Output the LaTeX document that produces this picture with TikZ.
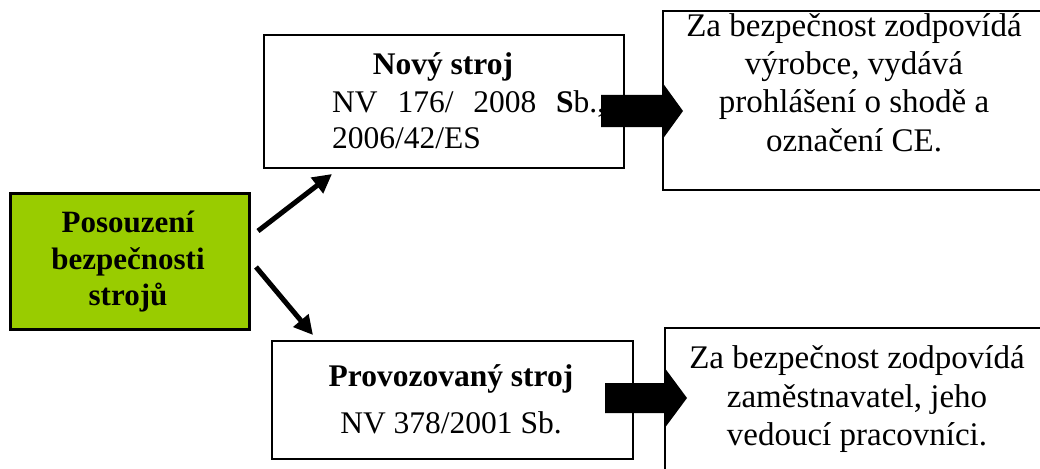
\documentclass[tikz,border=0pt]{standalone}
\usepackage{fontspec}
\setmainfont{Liberation Serif}
\usetikzlibrary{arrows.meta,calc}
\definecolor{leaf}{RGB}{153,204,0}
\begin{document}
\begin{tikzpicture}[x=1pt,y=-1pt,
  frame/.style={draw=black,line width=2pt,inner sep=0pt,anchor=north west},
  row/.style={inner sep=0pt,anchor=base},
  rowleft/.style={inner sep=0pt,anchor=base west},
  big/.style={font=\fontsize{33}{38}\selectfont},
  mid/.style={font=\fontsize{31.5}{36}\selectfont},
  midbold/.style={font=\fontsize{31.5}{36}\selectfont\bfseries},
  rootfont/.style={font=\fontsize{31}{36}\selectfont\bfseries},
  link/.style={line width=5pt,-{Triangle[length=19pt,width=19pt]}},
  blockarrow/.style={fill=black}]
\clip (0,0) rectangle (1040,468);
\fill[white] (0,0) rectangle (1040,468);

% boxes
\node[frame,fill=leaf,line width=3pt,minimum width=239pt,minimum height=136pt] (root) at (9,192) {};
\node[frame,minimum width=360pt,minimum height=133pt] (new) at (263,34) {};
\node[frame,minimum width=361pt,minimum height=118pt] (used) at (271,340) {};
\node[frame,minimum width=400pt,minimum height=179pt] (maker) at (662,10) {};
\node[frame,minimum width=400pt,minimum height=160pt] (boss) at (664,327) {};

% root text
\node[row,rootfont] (r1) at (128,232) {Posouzení};
\node[row,rootfont] (r2) at (128,269) {bezpečnosti};
\node[row,rootfont] (r3) at (128,305) {strojů};

% new machine
\node[row,midbold] (n1) at (443,75) {Nový stroj};
\node[rowleft,mid] (n2) at (332,113) {\hbox to 273pt{NV\hfill 176/\hfill 2008\hfill \textbf{S}b.,}};
\node[rowleft,mid] (n3) at (332,148) {2006/42/ES};

% machine in operation
\node[row,midbold] (u1) at (451,386) {Provozovaný stroj};
\node[row,mid] (u2) at (451,433) {NV 378/2001 Sb.};

% manufacturer
\node[row,big] (m1) at (854,37) {Za bezpečnost zodpovídá};
\node[row,big] (m2) at (854,75) {výrobce, vydává};
\node[row,big] (m3) at (854,113) {prohlášení o shodě a};
\node[row,big] (m4) at (854,151) {označení CE.};

% employer
\node[row,big] (b1) at (857,368) {Za bezpečnost zodpovídá};
\node[row,big] (b2) at (857,407) {zaměstnavatel, jeho};
\node[row,big] (b3) at (857,445) {vedoucí pracovníci.};

% block arrows
\coordinate (s1) at (601,111);
\coordinate (s2) at (605,398);
\fill[blockarrow] (s1) ++(0,-16) -- ++(61,0) -- ++(0,-13) -- ++(21,29)
  -- ++(-21,29) -- ++(0,-13) -- ++(-61,0) -- cycle;
\fill[blockarrow] (s2) ++(0,-15) -- ++(59,0) -- ++(0,-16) -- ++(23,31)
  -- ++(-23,31) -- ++(0,-16) -- ++(-59,0) -- cycle;

% thin arrows
\coordinate (up0) at ($(root.north east)+(7,39)$);
\coordinate (up1) at ($(new.south west)+(69,5)$);
\coordinate (dn0) at ($(root.north east)+(5,75)$);
\coordinate (dn1) at ($(used.north west)+(42,-5)$);
\draw[link] (up0) -- (up1);
\draw[link] (dn0) -- (dn1);
\end{tikzpicture}
\end{document}
